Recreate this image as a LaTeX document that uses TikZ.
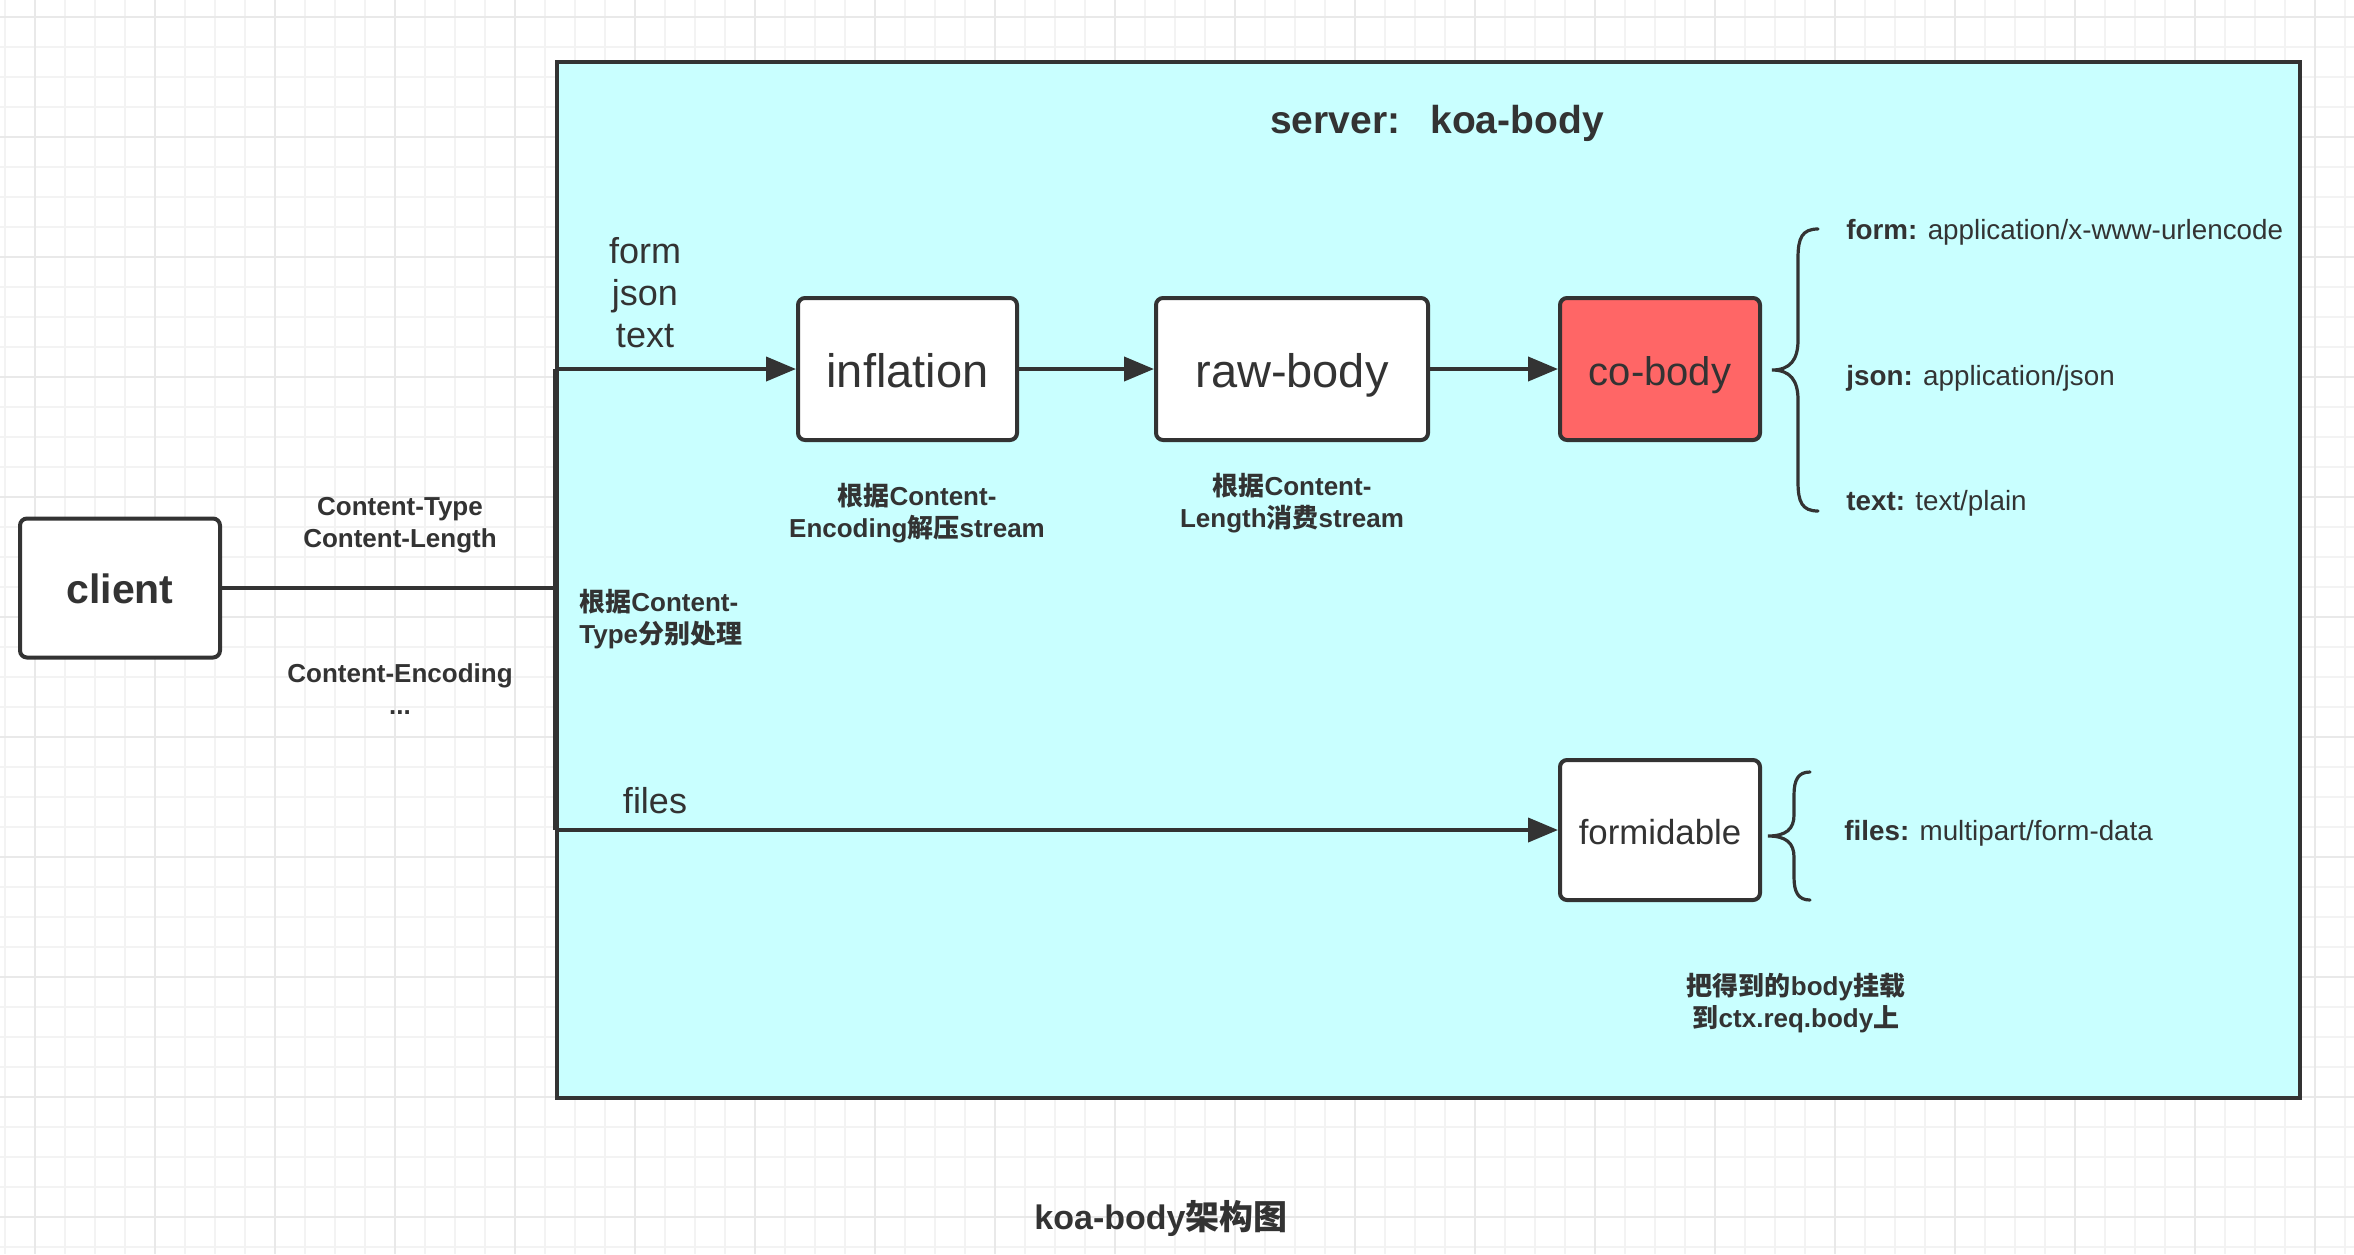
\documentclass[tikz,border=0pt]{standalone}
\usepackage{fontspec}
\setmainfont{Liberation Sans}
\newfontfamily\cjk{Noto Sans CJK SC}
\usetikzlibrary{arrows.meta}
\definecolor{gridminor}{HTML}{F3F3F3}
\definecolor{gridmajor}{HTML}{E9E9E9}
\definecolor{linec}{HTML}{333333}
\definecolor{serverfill}{HTML}{C9FFFF}
\definecolor{redfill}{HTML}{FF6666}
\newcommand{\zh}[1]{{\cjk #1}}
\begin{document}
\begin{tikzpicture}[x=0.5pt,y=-0.5pt,
  stepbox/.style={draw=linec, line width=2pt, rounded corners=3.5pt, fill=white, inner sep=0pt, text=linec, text depth=0pt},
  conn/.style={draw=linec, line width=2pt},
  arr/.style={conn, -{Triangle[length=15pt,width=12pt]}},
  lbl/.style={text=linec, inner sep=0pt, align=center, font=\fontsize{13}{16}\selectfont\bfseries},
  bracelbl/.style={text=linec, inner sep=0pt, anchor=west, font=\fontsize{13.9}{16}\selectfont},
  bracec/.style={draw=linec, line width=1.6pt, line cap=round},
  minorg/.style={draw=gridminor, line width=1pt},
  majorg/.style={draw=gridmajor, line width=1pt}
]
\useasboundingbox (0,0) rectangle (2354,1254);
\fill[white] (0,0) rectangle (2354,1254);
% grid
\foreach \x in {5,35,...,2354} \draw[minorg] (\x,0) -- (\x,1254);
\foreach \y in {17,47,...,1254} \draw[minorg] (0,\y) -- (2354,\y);
\foreach \x in {35,155,...,2354} \draw[majorg] (\x,0) -- (\x,1254);
\foreach \y in {17,137,...,1254} \draw[majorg] (0,\y) -- (2354,\y);

% server box
\node[draw=linec, line width=2pt, fill=serverfill, inner sep=0pt, anchor=north west,
      minimum width=871.5pt, minimum height=518pt] (server) at (555,60) {};
\node[text=linec, inner sep=0pt, font=\fontsize{19.5}{22}\selectfont\bfseries] (title) at (1437,123) {server:\hspace{15pt}koa-body};

% main nodes
\node[stepbox, text height=15.4pt, minimum width=100pt, minimum height=69.5pt, font=\fontsize{20.5}{24}\selectfont\bfseries] (client) at (120,588) {client};
\node[stepbox, text height=18.8pt, minimum width=109.5pt, minimum height=71pt, font=\fontsize{23.5}{28}\selectfont] (inflation) at (907.5,369) {inflation};
\node[stepbox, text height=18.8pt, minimum width=136pt, minimum height=71pt, font=\fontsize{23.5}{28}\selectfont] (rawbody) at (1292,369) {raw-body};
\node[stepbox, text height=16pt, fill=redfill, minimum width=100pt, minimum height=71pt, font=\fontsize{20}{24}\selectfont] (cobody) at (1660,369) {co-body};
\node[stepbox, text height=14pt, minimum width=100pt, minimum height=70pt, font=\fontsize{17.4}{20}\selectfont] (formidable) at (1660,830) {formidable};

% junctions
\coordinate (jt) at (555,369);
\coordinate (jm) at (555,588);
\coordinate (jb) at (555,830);

% connectors
\draw[conn] (client) -- (jm);
\draw[conn] (jt) -- (jb);
\draw[arr] (jt) -- (inflation);
\draw[arr] (inflation) -- (rawbody);
\draw[arr] (rawbody) -- (cobody);
\draw[arr] (jb) -- (formidable);

% labels
\node[text=linec, inner sep=0pt, align=center, font=\fontsize{18}{21}\selectfont] (types) at (645,293) {form\\json\\text};
\node[text=linec, inner sep=0pt, font=\fontsize{18}{21}\selectfont] (fileslbl) at (655,801) {files};
\node[lbl] (hdr1) at (400,525) {Content-Type\\Content-Length};
\node[lbl] (hdr2) at (400,689) {Content-Encoding\\...};
\node[lbl, align=left, anchor=west] (ctype) at (579,619) {\zh{根据}Content-\\Type\zh{分别处理}};
\node[lbl] (inflbl) at (917,513) {\zh{根据}Content-\\Encoding\zh{解压}stream};
\node[lbl] (rawlbl) at (1292,503) {\zh{根据}Content-\\Length\zh{消费}stream};
\node[lbl] (mount) at (1796,1003) {\zh{把得到的}body\zh{挂载}\\\zh{到}ctx.req.body\zh{上}};
\node[text=linec, inner sep=0pt, font=\fontsize{17}{20}\selectfont\bfseries] (caption) at (1161,1218) {koa-body\zh{架构图}};

% braces
\draw[bracec] (1818,229) .. controls (1802,229) and (1798,238) .. (1798,258) -- (1798,340)
  .. controls (1798,360) and (1790,370) .. (1772,370)
  .. controls (1790,370) and (1798,380) .. (1798,400) -- (1798,482)
  .. controls (1798,502) and (1802,511) .. (1818,511);
\draw[bracec] (1810,772) .. controls (1798,772) and (1794,780) .. (1794,795) -- (1794,815)
  .. controls (1794,829) and (1786,836) .. (1768,836)
  .. controls (1786,836) and (1794,843) .. (1794,857) -- (1794,877)
  .. controls (1794,892) and (1798,900) .. (1810,900);

\node[bracelbl] (bform) at (1846,232) {\textbf{form:} application/x-www-urlencode};
\node[bracelbl] (bjson) at (1846,378) {\textbf{json:} application/json};
\node[bracelbl] (btext) at (1846,503) {\textbf{text:} text/plain};
\node[bracelbl] (bfiles) at (1844,833) {\textbf{files:} multipart/form-data};
\end{tikzpicture}
\end{document}
